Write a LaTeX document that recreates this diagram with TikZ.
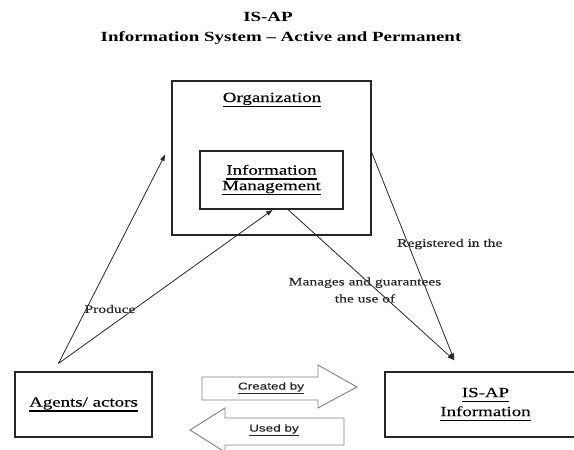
\documentclass[tikz,border=0pt]{standalone}
\usepackage{fontspec}
\setmainfont{Liberation Serif}[FakeStretch=1.35,UprightFeatures={FakeBold=0.25}]
\setsansfont{Liberation Sans}[FakeStretch=1.35,FakeBold=0.3]
\newcommand{\thickul}[1]{\vtop{\hbox{#1\vphantom{g}}\kern0.6pt\hrule height 1.4pt}}
\usetikzlibrary{arrows.meta,calc}
\tikzset{
  box/.style={draw=black!85, line width=1.1pt, inner sep=0pt, align=center, font=\fontsize{14}{15.5}\selectfont},
  conn/.style={draw=black!85, line width=0.8pt, -{Latex[length=7pt,width=5pt]}},
  lbl/.style={font=\fontsize{11.5}{17}\selectfont, inner sep=0pt, align=center, text=black!85},
  blockarrow/.style={draw=black!50, line width=0.9pt, fill=white},
  barlabel/.style={font=\sffamily\fontsize{10}{12}\selectfont, inner sep=0pt, text=black!85},
  titletext/.style={font=\bfseries\fontsize{14}{17}\selectfont, inner sep=0pt, anchor=base},
  boxlabel/.style={font=\fontsize{14}{15.5}\selectfont, inner sep=0pt, anchor=base}
}
\begin{document}
\begin{tikzpicture}[x=1pt,y=-1pt]
\useasboundingbox (0,0) rectangle (574,450);
\clip (0,0) rectangle (574,450);
% title
\node[titletext] (t1) at (268,21) {IS-AP};
\node[titletext] (t2) at (281,41) {Information System -- Active and Permanent};
% boxes
\node[box, minimum width=199pt, minimum height=154pt] (org) at (271.5,158) {};
\node[boxlabel] (orglbl) at (272,102) {\thickul{Organization}};
\node[box, minimum width=143pt, minimum height=58pt] (im) at (271.5,180) {\thickul{Information}\\\thickul{Management}};
\node[box, minimum width=137pt, minimum height=65pt] (agents) at (83.5,404.5) {\thickul{Agents/ actors}};
\node[box, minimum width=201pt, minimum height=65pt, font=\fontsize{14}{19}\selectfont] (isap) at (485.5,404.5) {\thickul{IS-AP}\\\thickul{Information}};
% connector ends
\coordinate (apex) at ($(agents.north west)+(44,-8)$);
\coordinate (orgin) at ($(org.west)+(-6,-4)$);
\coordinate (imin) at ($(im.south)+(1.5,0)$);
\coordinate (imout) at ($(im.south)+(16.5,0)$);
\coordinate (orgout) at ($(org.east)+(0,-6)$);
\coordinate (isapin) at ($(isap.north west)+(70,-11)$);
% connectors
\draw[conn] (apex) -- (orgin);
\draw[conn] (apex) -- (imin);
\draw[conn] (imout) -- (isapin);
\draw[conn] (orgout) -- (isapin);
% labels
\node[lbl] (produce) at (110,309) {Produce};
\node[lbl, anchor=west] (reg) at (397,244) {Registered in the};
\node[lbl] (manages) at (365,290) {Manages and guarantees\\the use of};
% block arrows
\draw[blockarrow] (202,377) -- (318,377) -- (318,365) -- (357,387) -- (318,408) -- (318,400) -- (202,400) -- cycle;
\node[barlabel] (created) at (271,388) {\underline{Created by}};
\draw[blockarrow] (344,418) -- (225,418) -- (225,408) -- (190,430) -- (225,452) -- (225,445) -- (344,445) -- cycle;
\node[barlabel] (used) at (274,430) {\underline{Used by}};
\end{tikzpicture}
\end{document}
